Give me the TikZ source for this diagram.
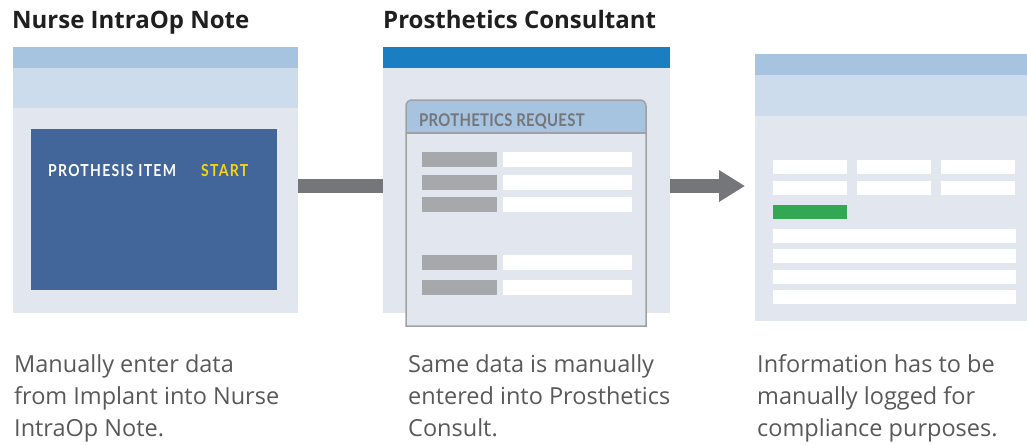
\documentclass[tikz,border=0pt]{standalone}
\usepackage{fontspec}
\setmainfont{Open Sans}
\newfontfamily\screenfont{Lato}
\usetikzlibrary{arrows.meta}

\definecolor{barblue}{HTML}{A6C3DF}
\definecolor{bandblue}{HTML}{CCDCEC}
\definecolor{panelgray}{HTML}{E2E6EE}
\definecolor{navy}{HTML}{426699}
\definecolor{topblue}{HTML}{1A7EC2}
\definecolor{arrowgray}{HTML}{75767A}
\definecolor{labelgray}{HTML}{A7A8AB}
\definecolor{framegray}{HTML}{A0A1A5}
\definecolor{okgreen}{HTML}{33A852}
\definecolor{startyellow}{HTML}{F5D60A}
\definecolor{captiongray}{HTML}{58595B}

\begin{document}
\begin{tikzpicture}[x=1pt,y=-1pt,
    panel/.style={fill=panelgray,inner sep=0pt,anchor=north west},
    heading/.style={anchor=base west,inner sep=0pt,font=\fontsize{24}{28}\selectfont\bfseries,text=black!88},
    caption/.style={anchor=base west,inner sep=0pt,align=left,font=\fontsize{23.5}{32}\selectfont,text=captiongray},
    screentext/.style={anchor=base west,inner sep=0pt,xscale=0.85,
      font=\screenfont\addfontfeatures{LetterSpace=9}\fontsize{16.5}{18}\selectfont\bfseries}]

    \useasboundingbox (0,0) rectangle (1027,444);

    % panels
    \node[panel,minimum width=285pt,minimum height=266pt] (nurse) at (13,47) {};
    \node[panel,minimum width=287pt,minimum height=266pt] (consult) at (383,47) {};
    \node[panel,minimum width=272pt,minimum height=267pt] (result) at (755,54) {};

    % headings
    \node[heading] (nursetitle) at (12,29) {Nurse IntraOp Note};
    \node[heading] (consulttitle) at (383,29) {Prosthetics Consultant};

    % nurse note screen
    \fill[barblue] (13,47) rectangle (298,68);
    \fill[bandblue] (13,68) rectangle (298,108);
    \node[fill=navy,inner sep=0pt,anchor=north west,minimum width=246pt,minimum height=161pt] (itembox) at (31,129) {};
    \node[screentext,text=white] (itemlabel) at (48,176) {PROTHESIS ITEM};
    \node[screentext,text=startyellow] (startlabel) at (201,176) {START};

    % consultant screen
    \fill[topblue] (383,47) rectangle (670,68);
    \fill[panelgray] (406,133) rectangle (646,326);
    \fill[barblue] (406,133) [rounded corners=6pt] -- (406,100) -- (646,100) [sharp corners] -- (646,133) -- cycle;
    \draw[framegray,line width=1.2pt] (406,133) -- (646,133);
    \draw[framegray,line width=1.5pt] (406,326) [rounded corners=6pt] -- (406,100) -- (646,100) [sharp corners] -- (646,326) -- cycle;
    \node[screentext,text=arrowgray,font=\screenfont\addfontfeatures{LetterSpace=2}\fontsize{17.5}{18}\selectfont\bfseries] (requestlabel) at (419,126) {PROTHETICS REQUEST};
    \foreach \y in {152,175,197,255,280} {
      \fill[labelgray] (422,\y) rectangle ++(75,15);
      \fill[white] (503,\y) rectangle ++(129,15);
    }

    % log screen
    \fill[barblue] (755,54) rectangle (1027,75);
    \fill[bandblue] (755,75) rectangle (1027,116);
    \foreach \x in {773,857,941}
      \foreach \y in {160,181}
        \fill[white] (\x,\y) rectangle ++(74,14);
    \fill[okgreen] (773,205) rectangle ++(74,14);
    \foreach \y in {229,249,270,290}
      \fill[white] (773,\y) rectangle ++(243,14);

    % connectors
    \coordinate (mid) at (0,186);
    \draw[arrowgray,line width=14pt] (nurse.east |- mid) -- (consult.west |- mid);
    \draw[arrowgray,line width=14pt,shorten >=10pt,-{Triangle[length=26pt,width=30pt]}] (consult.east |- mid) -- (result.west |- mid);

    % captions (base = last line)
    \node[caption] (nursecap) at (14,436) {Manually enter data\\from Implant into Nurse\\IntraOp Note.};
    \node[caption] (consultcap) at (408,436) {Same data is manually\\entered into Prosthetics\\Consult.};
    \node[caption] (resultcap) at (757,436) {Information has to be\\manually logged for\\compliance purposes.};
  \end{tikzpicture}
\end{document}
